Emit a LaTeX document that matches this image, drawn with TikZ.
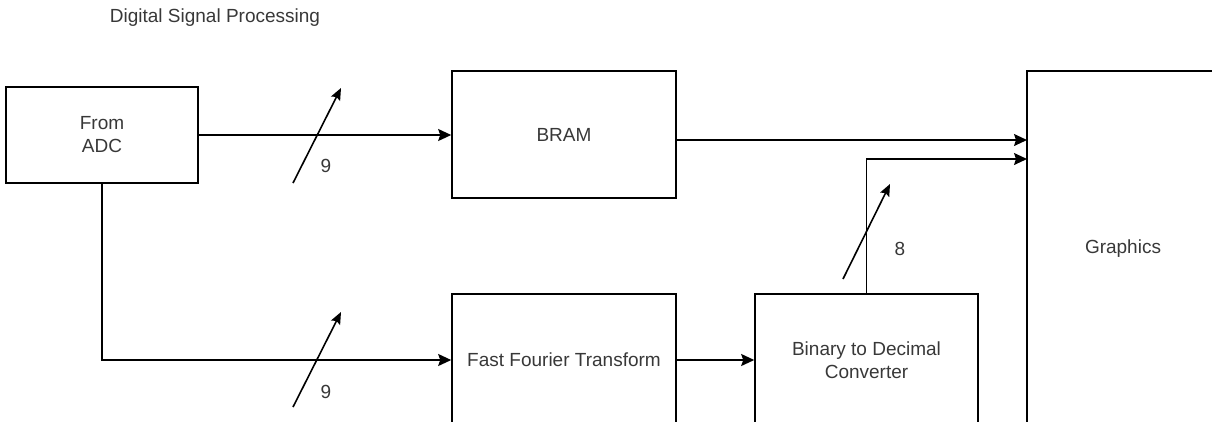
\documentclass[tikz,border=0pt]{standalone}
\usepackage{fontspec}
\setmainfont{Liberation Sans}
\usetikzlibrary{arrows.meta}
\definecolor{txt}{rgb}{0.22,0.22,0.22}
\tikzset{
  blk/.style={draw=black, line width=1.6pt, rectangle, inner sep=0pt, text=txt, align=center, font=\fontsize{19}{23}\selectfont},
  lbl/.style={text=txt, font=\fontsize{19}{23}\selectfont, inner sep=0pt},
  wire/.style={draw=black, line width=1.6pt},
  arr/.style={wire, -{Stealth[length=13pt,width=12pt,inset=2pt]}},
  slash/.style={draw=black, line width=1.6pt, -{Stealth[length=12pt,width=10pt,inset=2pt]}}
}
\begin{document}
\begin{tikzpicture}[x=1pt,y=-1pt]
\useasboundingbox (0,0) rectangle (1212,421);
\clip (0,0) rectangle (1212,421);
\node[lbl] (title) at (215,18) {Digital Signal Processing};
\node[blk, minimum width=192pt, minimum height=96pt] (adc) at (102,135) {From\\ADC};
\node[blk, minimum width=224pt, minimum height=127pt] (bram) at (564,134.5) {BRAM};
\node[blk, minimum width=224pt, minimum height=132pt] (fft) at (564,360) {Fast Fourier Transform};
\node[blk, minimum width=223pt, minimum height=132pt] (bin) at (866.5,360) {Binary to Decimal\\Converter};
\node[blk, minimum width=192pt, minimum height=356pt] (gfx) at (1123,249) {Graphics};
\coordinate (g1) at (1027,140);
\coordinate (g2) at (1027,159);
\draw[arr] (adc.east) -- (adc.east -| bram.west);
\draw[arr] (g1 -| bram.east) -- (g1);
\draw[arr] (bin.north) -- (bin.north |- g2) -- (g2);
\draw[arr] (adc.south) -- (adc.south |- fft.west) -- (fft.west);
\draw[arr] (fft.east) -- (bin.west);
\coordinate (s1a) at (293,183);
\coordinate (s1b) at (341,88);
\coordinate (s2a) at (293,407);
\coordinate (s2b) at (341,312);
\coordinate (s3a) at (843,279);
\coordinate (s3b) at (890,184);
\draw[slash] (s1a) -- (s1b);
\draw[slash] (s2a) -- (s2b);
\draw[slash] (s3a) -- (s3b);
\node[lbl] (n1) at (326,166) {9};
\node[lbl] (n2) at (326,392) {9};
\node[lbl] (n3) at (900,249) {8};
\end{tikzpicture}
\end{document}
